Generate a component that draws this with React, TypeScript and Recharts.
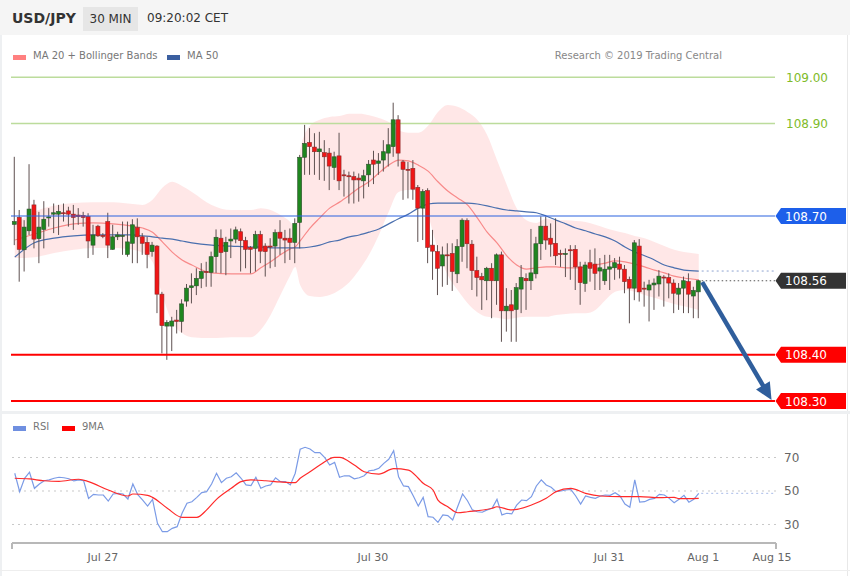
import React from "react";
import {
  ComposedChart,
  Area,
  Bar,
  Line,
  XAxis,
  YAxis,
  ReferenceLine,
} from "recharts";

// USD/JPY 30 min candles (candle index 0..139)
const opens = [
  108.682, 108.697, 108.627, 108.668, 108.724, 108.651, 108.671, 108.696, 108.704, 108.704,
  108.707, 108.711, 108.704, 108.702, 108.701, 108.699, 108.637, 108.678, 108.658, 108.688,
  108.628, 108.655, 108.658, 108.617, 108.641, 108.675, 108.655, 108.643, 108.623, 108.635,
  108.531, 108.462, 108.462, 108.475, 108.472, 108.516, 108.545, 108.549, 108.565, 108.58,
  108.578, 108.612, 108.652, 108.623, 108.646, 108.65, 108.666, 108.647, 108.632, 108.63,
  108.66, 108.635, 108.635, 108.635, 108.665, 108.652, 108.652, 108.643, 108.686, 108.827,
  108.859, 108.849, 108.839, 108.837, 108.836, 108.805, 108.83, 108.789, 108.787, 108.785,
  108.782, 108.776, 108.789, 108.821, 108.814, 108.821, 108.836, 108.85, 108.908, 108.817,
  108.801, 108.803, 108.762, 108.717, 108.755, 108.637, 108.623, 108.592, 108.616, 108.619,
  108.575, 108.634, 108.69, 108.639, 108.582, 108.569, 108.56, 108.587, 108.56, 108.616,
  108.495, 108.508, 108.498, 108.542, 108.565, 108.56, 108.575, 108.64, 108.678, 108.652,
  108.641, 108.619, 108.618, 108.627, 108.628, 108.59, 108.554, 108.599, 108.596, 108.581,
  108.56, 108.585, 108.588, 108.596, 108.585, 108.563, 108.544, 108.635, 108.544, 108.54,
  108.551, 108.553, 108.568, 108.567, 108.555, 108.531, 108.544, 108.558, 108.527, 108.536,
];
const highs = [
  108.828, 108.713, 108.691, 108.812, 108.735, 108.709, 108.732, 108.717, 108.727, 108.724,
  108.727, 108.72, 108.724, 108.717, 108.709, 108.706, 108.681, 108.681, 108.663, 108.707,
  108.681, 108.666, 108.688, 108.688, 108.693, 108.695, 108.663, 108.655, 108.644, 108.637,
  108.536, 108.475, 108.482, 108.497, 108.52, 108.553, 108.576, 108.587, 108.598, 108.601,
  108.623, 108.671, 108.671, 108.655, 108.673, 108.677, 108.673, 108.655, 108.635, 108.668,
  108.668, 108.641, 108.652, 108.671, 108.691, 108.67, 108.673, 108.695, 108.832, 108.897,
  108.89, 108.879, 108.882, 108.864, 108.847, 108.839, 108.88, 108.8, 108.796, 108.796,
  108.792, 108.8, 108.821, 108.841, 108.836, 108.864, 108.89, 108.945, 108.918, 108.821,
  108.817, 108.821, 108.767, 108.758, 108.76, 108.67, 108.637, 108.634, 108.641, 108.641,
  108.65, 108.695, 108.695, 108.648, 108.612, 108.577, 108.59, 108.598, 108.619, 108.623,
  108.544, 108.54, 108.555, 108.594, 108.576, 108.672, 108.655, 108.699, 108.699, 108.684,
  108.695, 108.627, 108.63, 108.637, 108.637, 108.601, 108.601, 108.627, 108.63, 108.609,
  108.616, 108.616, 108.609, 108.612, 108.594, 108.569, 108.648, 108.65, 108.558, 108.562,
  108.565, 108.583, 108.572, 108.576, 108.563, 108.555, 108.569, 108.576, 108.547, 108.562,
];
const lows = [
  108.637, 108.558, 108.58, 108.659, 108.63, 108.598, 108.63, 108.677, 108.663, 108.659,
  108.688, 108.677, 108.67, 108.681, 108.677, 108.609, 108.616, 108.655, 108.652, 108.609,
  108.627, 108.648, 108.616, 108.612, 108.598, 108.598, 108.616, 108.587, 108.612, 108.49,
  108.403, 108.389, 108.408, 108.446, 108.448, 108.504, 108.511, 108.529, 108.544, 108.547,
  108.547, 108.577, 108.576, 108.572, 108.609, 108.641, 108.58, 108.587, 108.576, 108.58,
  108.598, 108.569, 108.587, 108.59, 108.616, 108.598, 108.605, 108.598, 108.63, 108.789,
  108.789, 108.789, 108.778, 108.776, 108.756, 108.778, 108.756, 108.742, 108.727, 108.727,
  108.731, 108.738, 108.763, 108.769, 108.789, 108.796, 108.807, 108.828, 108.807, 108.735,
  108.738, 108.735, 108.644, 108.648, 108.598, 108.562, 108.529, 108.547, 108.551, 108.538,
  108.555, 108.601, 108.587, 108.54, 108.526, 108.497, 108.518, 108.479, 108.508, 108.428,
  108.45, 108.428, 108.428, 108.49, 108.497, 108.54, 108.565, 108.605, 108.627, 108.612,
  108.594, 108.59, 108.568, 108.562, 108.54, 108.508, 108.536, 108.558, 108.54, 108.54,
  108.551, 108.54, 108.562, 108.565, 108.533, 108.468, 108.518, 108.515, 108.504, 108.472,
  108.497, 108.526, 108.504, 108.522, 108.49, 108.497, 108.49, 108.49, 108.479, 108.479,
];
const closes = [
  108.688, 108.628, 108.676, 108.715, 108.65, 108.676, 108.693, 108.698, 108.707, 108.71,
  108.706, 108.704, 108.697, 108.699, 108.697, 108.646, 108.659, 108.657, 108.657, 108.637,
  108.655, 108.659, 108.658, 108.644, 108.681, 108.655, 108.641, 108.617, 108.637, 108.531,
  108.463, 108.47, 108.473, 108.472, 108.51, 108.544, 108.549, 108.565, 108.58, 108.579,
  108.612, 108.654, 108.621, 108.643, 108.65, 108.67, 108.647, 108.628, 108.628, 108.66,
  108.624, 108.623, 108.634, 108.664, 108.652, 108.648, 108.643, 108.684, 108.827, 108.857,
  108.85, 108.839, 108.845, 108.828, 108.808, 108.828, 108.776, 108.788, 108.786, 108.778,
  108.778, 108.787, 108.812, 108.812, 108.819, 108.839, 108.854, 108.908, 108.836, 108.801,
  108.8, 108.758, 108.717, 108.753, 108.632, 108.624, 108.587, 108.616, 108.615, 108.58,
  108.634, 108.691, 108.64, 108.582, 108.567, 108.562, 108.587, 108.56, 108.616, 108.495,
  108.505, 108.495, 108.545, 108.567, 108.56, 108.577, 108.64, 108.678, 108.648, 108.639,
  108.614, 108.618, 108.619, 108.626, 108.59, 108.556, 108.594, 108.587, 108.576, 108.588,
  108.585, 108.59, 108.599, 108.585, 108.558, 108.544, 108.642, 108.536, 108.543, 108.551,
  108.555, 108.57, 108.567, 108.555, 108.533, 108.544, 108.56, 108.531, 108.539, 108.56,
];

// Bollinger bands / moving averages, sampled at these candle indices
const bandIdx = [
  0, 4, 8, 12, 16, 20, 24, 26, 28, 30, 32, 34, 36, 40, 44, 48, 50, 52, 54, 56, 57, 58,
  60, 62, 64, 66, 68, 70, 72, 74, 76, 78, 80, 82, 84, 86, 88, 90, 92, 94, 96, 98,
  100, 102, 104, 106, 108, 110, 112, 114, 116, 118, 120, 122, 124, 126, 128, 130, 132, 134, 136, 139,
];
const bandUpper = [
  108.681, 108.709, 108.722, 108.728, 108.73, 108.73, 108.726, 108.724, 108.735, 108.761, 108.774,
  108.765, 108.752, 108.724, 108.713, 108.713, 108.717, 108.713, 108.702, 108.687, 108.674, 108.843,
  108.895, 108.908, 108.914, 108.916, 108.921, 108.921, 108.918, 108.912, 108.903, 108.886, 108.88,
  108.88, 108.895, 108.925, 108.94, 108.936, 108.925, 108.908, 108.875, 108.821,
  108.767, 108.717, 108.691, 108.685, 108.694, 108.691, 108.691, 108.689, 108.687, 108.681, 108.674,
  108.668, 108.663, 108.657, 108.652, 108.644, 108.635, 108.627, 108.622, 108.618,
];
const bandLower = [
  108.609, 108.611, 108.62, 108.627, 108.631, 108.631, 108.627, 108.62, 108.601, 108.529, 108.471,
  108.447, 108.438, 108.436, 108.438, 108.438, 108.454, 108.486, 108.529, 108.572, 108.59, 108.551,
  108.527, 108.525, 108.529, 108.54, 108.557, 108.583, 108.616, 108.659, 108.709, 108.752, 108.756,
  108.754, 108.702, 108.627, 108.572, 108.54, 108.512, 108.492, 108.482, 108.48,
  108.477, 108.48, 108.482, 108.482, 108.482, 108.486, 108.488, 108.49, 108.49, 108.497, 108.518,
  108.536, 108.54, 108.536, 108.529, 108.523, 108.516, 108.51, 108.505, 108.497,
];
const ma20 = [
  108.648, 108.661, 108.674, 108.683, 108.685, 108.683, 108.678, 108.674, 108.665, 108.644, 108.622,
  108.605, 108.594, 108.577, 108.575, 108.575, 108.588, 108.601, 108.616, 108.629, 108.633, 108.646,
  108.674, 108.696, 108.717, 108.73, 108.745, 108.761, 108.774, 108.793, 108.81, 108.821, 108.819,
  108.81, 108.797, 108.774, 108.754, 108.739, 108.724, 108.696, 108.665, 108.642,
  108.614, 108.594, 108.585, 108.588, 108.59, 108.59, 108.588, 108.588, 108.59, 108.594, 108.598,
  108.603, 108.601, 108.596, 108.59, 108.583, 108.577, 108.57, 108.566, 108.562,
];
const ma50 = [
  108.611, 108.642, 108.652, 108.657, 108.659, 108.659, 108.659, 108.657, 108.655, 108.652, 108.65,
  108.646, 108.642, 108.637, 108.635, 108.633, 108.633, 108.631, 108.631, 108.631, 108.631, 108.631,
  108.633, 108.637, 108.644, 108.648, 108.655, 108.659, 108.665, 108.672, 108.683, 108.694, 108.704,
  108.717, 108.726, 108.728, 108.728, 108.728, 108.728, 108.726, 108.722, 108.717,
  108.713, 108.711, 108.709, 108.707, 108.7, 108.691, 108.683, 108.674, 108.668, 108.661, 108.655,
  108.646, 108.633, 108.622, 108.614, 108.605, 108.594, 108.588, 108.583, 108.581,
];

// RSI per candle, 9MA of RSI sampled
const rsi = [
  60.6, 49.6, 57.6, 61.2, 51.6, 54.2, 56.1, 56.6, 57.6, 58.2,
  57.9, 57.3, 56.0, 56.6, 56.1, 45.6, 48.0, 47.6, 47.6, 44.0,
  48.2, 48.6, 48.2, 45.2, 54.2, 47.8, 44.6, 41.0, 45.0, 30.7,
  25.7, 25.7, 27.7, 28.7, 36.7, 42.7, 43.6, 46.2, 49.0, 49.6,
  54.2, 60.6, 55.0, 57.6, 58.5, 60.9, 57.6, 53.6, 53.2, 58.2,
  51.6, 53.0, 53.6, 57.9, 55.6, 55.6, 53.6, 60.6, 74.9, 76.1,
  75.1, 72.9, 72.9, 69.9, 65.5, 67.1, 58.2, 59.1, 59.0, 57.3,
  57.9, 59.1, 62.1, 62.5, 63.6, 66.5, 68.9, 74.1, 58.5, 53.0,
  52.6, 47.0, 41.0, 46.2, 34.7, 34.3, 31.3, 35.7, 35.3, 32.7,
  40.6, 48.2, 44.2, 38.7, 37.6, 37.3, 38.7, 39.7, 45.0, 35.7,
  36.7, 36.3, 41.6, 44.6, 44.2, 46.6, 53.0, 56.6, 53.6, 52.2,
  49.6, 50.0, 50.6, 51.0, 47.0, 42.2, 47.0, 46.2, 45.6, 47.0,
  47.6, 47.4, 49.0, 47.0, 42.2, 40.3, 56.6, 43.3, 43.6, 45.0,
  45.6, 48.0, 47.6, 45.6, 43.0, 45.0, 47.4, 43.3, 45.0, 48.6,
];
const ma9Idx = [
  0, 3, 6, 9, 13, 15, 19, 23, 24, 27, 28, 31, 34, 37, 39, 41, 44, 46, 48, 51,
  54, 57, 58, 60, 62, 65, 66, 69, 71, 74, 77, 80, 82, 83, 85, 86, 88, 90, 92, 97,
  98, 101, 105, 108, 110, 113, 116, 119, 123, 127, 131, 134, 135, 139,
];
const ma9 = [
  57.6, 57.2, 56.1, 55.8, 57.0, 55.6, 50.6, 47.0, 48.2, 47.4, 46.2, 39.7, 34.3, 34.3, 38.7, 45.0,
  51.6, 55.6, 56.6, 56.1, 55.4, 55.0, 57.6, 61.5, 65.5, 70.1, 70.1, 65.5, 61.5, 60.1, 63.3, 62.5,
  57.6, 54.6, 50.6, 44.6, 40.6, 37.0, 37.6, 39.7, 40.6, 38.7, 41.6, 45.6, 49.6, 51.6, 48.6, 47.0,
  46.6, 46.6, 46.0, 46.2, 45.4, 45.6,
];

// x axis of the RSI panel (candle-index positions)
const axisTicks = [-0.56, 17.9, 72.8, 120.8, 139.9, 153.9, 154.7];
const axisLabels = ["", "Jul 27", "Jul 30", "Jul 31", "Aug 1", "Aug 15", ""];
const rsiTicks = [30, 50, 70];

// levels
const greenLevels = [109.0, 108.9];
const resistance = 108.7;
const supports = [108.4, 108.3];
const lastPrice = 108.56;
const lastMa50 = 108.581;
const lastRsi = 48.6;
const arrowFrom = { i: 139.7, p: 108.557 };
const arrowTo = { i: 153.8, p: 108.302 };

const FONT = "'DejaVu Sans', sans-serif";
const PRICE_DOMAIN = [108.28, 109.02];
const IDX_DOMAIN = [-0.76, 154.5];
const RSI_IDX_DOMAIN = [-0.56, 154.7];
const MAIN_MARGIN = { top: 68, right: 75, bottom: 1.75, left: 11 };

const candleRows = opens.map((o, i) => ({
  i,
  o,
  h: highs[i],
  l: lows[i],
  c: closes[i],
  hl: [lows[i], highs[i]],
}));

const bandRows = bandIdx.map((i, k) => ({
  i,
  band: [bandLower[k], bandUpper[k]],
  ma20: ma20[k],
  ma50: ma50[k],
}));

const rsiRows: any[] = rsi.map((v, i) => ({ i, rsi: v }));
ma9Idx.forEach((idx, k) => {
  rsiRows[idx].ma9 = ma9[k];
});

function Candle(props: any) {
  const { x, y, width, height, payload } = props;
  if (!payload || height == null) return null;
  const { o, h, l, c } = payload;
  const top = Math.min(y, y + height);
  const span = Math.abs(height);
  const k = span / (h - l);
  const py = (v: number) => top + (h - v) * k;
  const cx = x + width / 2;
  const up = c >= o;
  const bTop = py(Math.max(o, c));
  const bH = Math.max(1, py(Math.min(o, c)) - bTop);
  return (
    <g>
      <line x1={cx} x2={cx} y1={top} y2={top + span} stroke="#5e5050" strokeWidth={1} />
      <rect
        x={cx - 2}
        y={bTop}
        width={4}
        height={bH}
        fill={up ? "#1f861f" : "#f01616"}
        stroke={up ? "#2d4f2d" : "#8a2a2a"}
        strokeWidth={0.6}
      />
    </g>
  );
}

function tagLabel(text: string, bg: string) {
  return (p: any) => {
    const vb = p.viewBox || {};
    const x0 = vb.x + vb.width;
    const yc = vb.y;
    return (
      <g>
        <polygon
          points={`${x0 + 0.5},${yc} ${x0 + 6},${yc - 8} ${x0 + 71},${yc - 8} ${x0 + 71},${yc + 8} ${x0 + 6},${yc + 8}`}
          fill={bg}
        />
        <text x={x0 + 10} y={yc + 4.5} fill="#fff" fontSize={12} fontFamily={FONT}>
          {text}
        </text>
      </g>
    );
  };
}

function greenLabel(text: string) {
  return (p: any) => {
    const vb = p.viewBox || {};
    return (
      <text x={vb.x + vb.width + 11} y={vb.y + 4.5} fill="#80bb2a" fontSize={12} fontFamily={FONT}>
        {text}
      </text>
    );
  };
}

function Arrow(p: any) {
  const { x1, y1, x2, y2 } = p;
  const dx = x2 - x1;
  const dy = y2 - y1;
  const len = Math.hypot(dx, dy) || 1;
  const ux = dx / len;
  const uy = dy / len;
  const head = 17;
  const half = 8;
  const bx = x2 - ux * head;
  const by = y2 - uy * head;
  return (
    <g>
      <line x1={x1} y1={y1} x2={bx + ux * 2} y2={by + uy * 2} stroke="#2f5e9c" strokeWidth={4.5} />
      <polygon
        points={`${x2},${y2} ${bx - uy * half},${by + ux * half} ${bx + uy * half},${by - ux * half}`}
        fill="#2f5e9c"
      />
    </g>
  );
}

function DateTick(props: any) {
  const { x, y, payload } = props;
  const k = axisTicks.indexOf(payload.value);
  const label = axisLabels[k];
  if (!label) {
    return <line x1={x} x2={x} y1={y} y2={y + 6} stroke="#b8b8b8" strokeWidth={2} />;
  }
  return (
    <text x={x} y={y + 18} textAnchor="middle" fill="#666" fontSize={11} fontFamily={FONT}>
      {label}
    </text>
  );
}

const fmt = (v: number) => v.toFixed(2);

export default function App() {
  return (
    <div
      style={{
        position: "absolute",
        left: 0,
        top: 0,
        width: 850,
        height: 576,
        background: "#fff",
        fontFamily: FONT,
        overflow: "hidden",
      }}
    >
      {/* header */}
      <div style={{ position: "absolute", left: 0, top: 0, width: 850, height: 35, background: "#f5f5f5" }} />
      <div style={{ position: "absolute", left: 12, top: 10, fontSize: 14, fontWeight: "bold", color: "#333" }}>
        USD/JPY
      </div>
      <div
        style={{
          position: "absolute",
          left: 83,
          top: 7,
          width: 55,
          height: 24,
          background: "#e6e6e6",
          fontSize: 12,
          color: "#333",
          lineHeight: "24px",
          textAlign: "center",
        }}
      >
        30 MIN
      </div>
      <div style={{ position: "absolute", left: 147, top: 11, fontSize: 12, color: "#333" }}>09:20:02 CET</div>

      {/* panel borders */}
      <div style={{ position: "absolute", left: 0, top: 35, width: 2, height: 541, background: "#eef0f2" }} />
      <div style={{ position: "absolute", left: 847, top: 35, width: 1, height: 541, background: "#e8e8e8" }} />
      <div style={{ position: "absolute", left: 0, top: 411, width: 850, height: 3, background: "#eef0f2" }} />
      <div style={{ position: "absolute", left: 0, top: 570, width: 850, height: 1, background: "#eeeeee" }} />

      {/* main panel: bands + averages */}
      <div style={{ position: "absolute", left: 0, top: 0 }}>
        <ComposedChart width={850} height={412} data={bandRows} margin={MAIN_MARGIN}>
          <XAxis dataKey="i" type="number" domain={IDX_DOMAIN} hide allowDataOverflow />
          <YAxis domain={PRICE_DOMAIN} hide allowDataOverflow />
          {greenLevels.map((v) => (
            <ReferenceLine key={v} y={v} stroke="#bcdc9c" strokeWidth={1.5} label={greenLabel(fmt(v))} />
          ))}
          <Area
            type="monotone"
            dataKey="band"
            stroke="none"
            fill="#ff2020"
            fillOpacity={0.11}
            isAnimationActive={false}
          />
          <Line type="monotone" dataKey="ma20" stroke="#f88a8a" strokeWidth={1.2} dot={false} isAnimationActive={false} />
          <Line type="monotone" dataKey="ma50" stroke="#4a6fae" strokeWidth={1.2} dot={false} isAnimationActive={false} />
        </ComposedChart>
      </div>

      {/* main panel: candles + levels */}
      <div style={{ position: "absolute", left: 0, top: 0 }}>
        <ComposedChart width={850} height={412} data={candleRows} margin={MAIN_MARGIN}>
          <XAxis dataKey="i" type="number" domain={IDX_DOMAIN} hide allowDataOverflow />
          <YAxis domain={PRICE_DOMAIN} hide allowDataOverflow />
          <ReferenceLine y={resistance} stroke="#2b63e0" strokeWidth={1.2} label={tagLabel(fmt(resistance), "#1d5fea")} />
          {supports.map((v) => (
            <ReferenceLine key={v} y={v} stroke="#ff0000" strokeWidth={2} label={tagLabel(fmt(v), "#ff0000")} />
          ))}
          <ReferenceLine
            segment={[{ x: 139.6, y: lastMa50 }, { x: 154.5, y: lastMa50 }]}
            stroke="#8ea3d0"
            strokeDasharray="2 3"
          />
          <ReferenceLine
            segment={[{ x: 139.6, y: lastPrice }, { x: 154.5, y: lastPrice }]}
            stroke="#555"
            strokeDasharray="1.5 2.5"
            label={tagLabel(fmt(lastPrice), "#333333")}
          />
          <Bar dataKey="hl" barSize={4} shape={(p: any) => <Candle {...p} />} isAnimationActive={false} />
          <ReferenceLine
            segment={[{ x: arrowFrom.i, y: arrowFrom.p }, { x: arrowTo.i, y: arrowTo.p }]}
            shape={(p: any) => <Arrow {...p} />}
          />
        </ComposedChart>
      </div>

      {/* main legend */}
      <div style={{ position: "absolute", left: 13, top: 55, width: 13, height: 5, background: "#ff8080" }} />
      <div style={{ position: "absolute", left: 33, top: 50, fontSize: 10, color: "#777" }}>MA 20 + Bollinger Bands</div>
      <div style={{ position: "absolute", left: 167, top: 55, width: 13, height: 5, background: "#3b5fa0" }} />
      <div style={{ position: "absolute", left: 187, top: 50, fontSize: 10, color: "#777" }}>MA 50</div>
      <div style={{ position: "absolute", right: 128, top: 50, fontSize: 10, color: "#888" }}>
        Research © 2019 Trading Central
      </div>

      {/* RSI panel */}
      <div style={{ position: "absolute", left: 0, top: 412 }}>
        <ComposedChart width={850} height={164} data={rsiRows} margin={{ top: 28.75, right: 0, bottom: 0, left: 12 }}>
          <XAxis
            dataKey="i"
            type="number"
            domain={RSI_IDX_DOMAIN}
            allowDataOverflow
            ticks={axisTicks}
            interval={0}
            tick={(p: any) => <DateTick {...p} />}
            tickLine={false}
            tickSize={0}
            tickMargin={0}
            axisLine={{ stroke: "#b8b8b8", strokeWidth: 2 }}
            height={33.1}
          />
          <YAxis
            orientation="right"
            width={74}
            domain={[19, 80]}
            allowDataOverflow
            ticks={rsiTicks}
            axisLine={false}
            tickLine={false}
            tick={{ fill: "#666", fontSize: 12, fontFamily: FONT }}
          />
          {rsiTicks.map((v) => (
            <ReferenceLine key={v} y={v} stroke="#c8c8c8" strokeDasharray="2 4" />
          ))}
          <ReferenceLine
            segment={[{ x: 139.5, y: lastRsi }, { x: 154.7, y: lastRsi }]}
            stroke="#a9bbe8"
            strokeDasharray="2 3"
          />
          <Line type="linear" dataKey="rsi" stroke="#7b9be6" strokeWidth={1.2} dot={false} isAnimationActive={false} />
          <Line
            type="monotone"
            dataKey="ma9"
            stroke="#ff2a2a"
            strokeWidth={1.2}
            dot={false}
            connectNulls
            isAnimationActive={false}
          />
        </ComposedChart>
      </div>

      {/* RSI legend */}
      <div style={{ position: "absolute", left: 13, top: 426, width: 13, height: 5, background: "#6f8fe0" }} />
      <div style={{ position: "absolute", left: 33, top: 421, fontSize: 10, color: "#777" }}>RSI</div>
      <div style={{ position: "absolute", left: 62, top: 426, width: 13, height: 5, background: "#ff0000" }} />
      <div style={{ position: "absolute", left: 82, top: 421, fontSize: 10, color: "#777" }}>9MA</div>
    </div>
  );
}
